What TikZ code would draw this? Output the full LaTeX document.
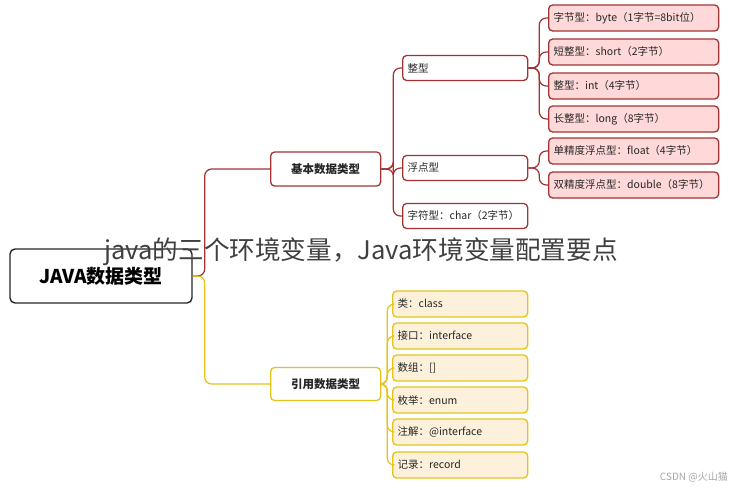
\documentclass[tikz,border=0pt]{standalone}
\usepackage{fontspec}
\setmainfont{Noto Sans CJK SC}
\begin{document}
\begin{tikzpicture}[x=1pt,y=-1pt,
  base/.style={draw,rounded corners=4pt,line width=1.3pt,anchor=west,inner xsep=5pt,font=\fontsize{10.5}{12}\selectfont,text=black!85},
  rmid/.style={base,draw=red!55!black!80,fill=white,minimum height=25pt,text width=115pt,align=left},
  rleaf/.style={base,draw=red!55!black!80,fill=red!15,minimum height=26pt,text width=160pt,align=left},
  ymid/.style={base,draw=yellow!70!orange!90!black,fill=white},
  yleaf/.style={base,draw=yellow!70!orange!90!black,fill=yellow!15!orange!12,minimum height=26pt,text width=125pt,align=left},
  rl/.style={draw=red!55!black!80,line width=1.2pt,rounded corners=7pt},
  yl/.style={draw=yellow!70!orange!90!black,line width=1.2pt,rounded corners=7pt}]
\useasboundingbox (0,0) rectangle (729,490);
\node[draw=black!85,line width=1.4pt,rounded corners=5pt,fill=white,minimum width=182pt,minimum height=54pt,font=\fontsize{19}{22}\selectfont\bfseries] (root) at (101,276) {JAVA数据类型};
\node[rmid,text width=100pt,align=center,minimum height=34pt,font=\fontsize{11.5}{13}\selectfont\bfseries] (jb) at (270,169) {基本数据类型};
\node[ymid,text width=100pt,align=center,minimum height=33pt,font=\fontsize{11.5}{13}\selectfont\bfseries] (yy) at (270,384) {引用数据类型};
\node[rmid] (zx) at (402,68) {整型};
\node[rmid] (fd) at (402,168) {浮点型};
\node[rmid] (zf) at (402,216) {字符型：char（2字节）};
\node[rleaf] (l1) at (548,18) {字节型：byte（1字节=8bit位）};
\node[rleaf] (l2) at (548,52) {短整型：short（2字节）};
\node[rleaf] (l3) at (548,86) {整型：int（4字节）};
\node[rleaf] (l4) at (548,119) {长整型：long（8字节）};
\node[rleaf] (l5) at (548,151) {单精度浮点型：float（4字节）};
\node[rleaf] (l6) at (548,185) {双精度浮点型：double（8字节）};
\node[yleaf] (y1) at (392,304) {类：class};
\node[yleaf] (y2) at (392,336) {接口：interface};
\node[yleaf] (y3) at (392,368) {数组：[]};
\node[yleaf] (y4) at (392,400) {枚举：enum};
\node[yleaf] (y5) at (392,432) {注解：@interface};
\node[yleaf] (y6) at (392,465) {记录：record};
\draw[rl] (root.east) -- ++(12,0) |- (jb.west);
\draw[yl] (root.east) -- ++(12,0) |- (yy.west);
\foreach \n in {zx,fd,zf} \draw[rl] (jb.east) -- ++(12,0) |- (\n.west);
\foreach \n in {l1,l2,l3,l4} \draw[rl] (zx.east) -- ++(11,0) |- (\n.west);
\foreach \n in {l5,l6} \draw[rl] (fd.east) -- ++(11,0) |- (\n.west);
\foreach \n in {y1,y2,y3,y4,y5,y6} \draw[yl] (yy.east) -- ++(6,0) |- (\n.west);
\node[font=\fontsize{25.6}{30}\selectfont,text=black!75,anchor=west,inner sep=0pt] (ov) at (104,252) {java的三个环境变量，Java环境变量配置要点};
\node[font=\fontsize{10}{12}\selectfont,text=black!35,anchor=east,inner sep=0pt] (wm) at (728,477) {CSDN @火山猫};
\end{tikzpicture}
\end{document}
